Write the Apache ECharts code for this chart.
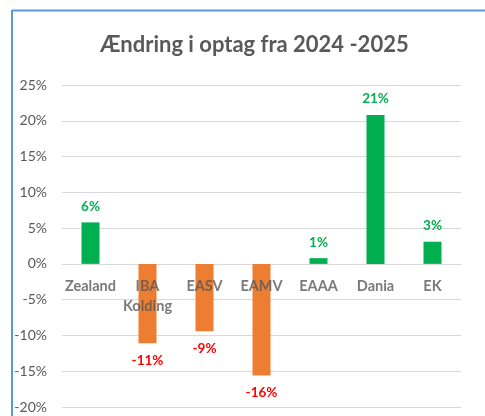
<!DOCTYPE html>
<html><head><meta charset="utf-8">
<script src="https://cdn.jsdelivr.net/npm/echarts@6/dist/echarts.min.js"></script>
<style>html,body{margin:0;padding:0;background:#fff}#c{width:485px;height:416px}</style>
</head><body><div id="c"></div>
<script>
const title = 'Ændring i optag fra 2024 -2025';
const categories = ['Zealand', 'IBA\nKolding', 'EASV', 'EAMV', 'EAAA', 'Dania', 'EK'];
const values = [5.8, -11.1, -9.4, -15.6, 0.8, 20.8, 3.1];
const labels = ['6%', '-11%', '-9%', '-16%', '1%', '21%', '3%'];
const yMin = -20, yMax = 25, yStep = 5;

const GREEN = '#00B050', ORANGE = '#ED7D31', RED = '#FF0000', GRAY = '#595959';
const FONT = 'Lato, "Liberation Sans", sans-serif';

const chart = echarts.init(document.getElementById('c'), null, {renderer: 'canvas'});
chart.setOption({
  animation: false,
  backgroundColor: '#fff',
  title: {
    text: title, left: 95, top: 29,
    textStyle: {fontFamily: FONT, fontSize: 22, fontWeight: 'bold', color: GRAY}
  },
  graphic: [
    {type: 'line', shape: {x1: 12, y1: 10.5, x2: 485, y2: 10.5}, style: {stroke: '#5B9BD5', lineWidth: 2}},
    {type: 'line', shape: {x1: 12, y1: 10, x2: 12, y2: 416}, style: {stroke: '#5B9BD5', lineWidth: 2}}
  ],
  grid: {left: 62, right: 24, top: 85, bottom: 9, containLabel: false, outerBoundsMode: 'none'},
  xAxis: {
    type: 'category', data: categories,
    axisLine: {onZero: true, lineStyle: {color: '#D9D9D9'}},
    axisTick: {show: false},
    axisLabel: {show: false}
  },
  yAxis: {
    type: 'value', min: yMin, max: yMax, interval: yStep,
    axisLine: {show: false}, axisTick: {show: false},
    splitLine: {lineStyle: {color: '#D9D9D9', width: 1}},
    axisLabel: {fontFamily: FONT, fontSize: 14, color: GRAY, margin: 15, formatter: v => v + '%'}
  },
  series: [{
    type: 'bar', barWidth: 18,
    data: values.map((v, i) => ({
      value: v,
      itemStyle: {color: v >= 0 ? GREEN : ORANGE},
      label: {
        show: true, position: v >= 0 ? 'top' : 'bottom', distance: v >= 0 ? 9 : 10,
        formatter: labels[i], fontFamily: FONT, fontSize: 13.5, fontWeight: 'bold',
        color: v >= 0 ? GREEN : RED
      }
    }))
  }, {
    type: 'scatter', symbolSize: 0, silent: true, z: 5,
    data: categories.map(c => [c, 0]),
    label: {
      show: true, position: 'bottom', distance: 12,
      formatter: p => categories[p.dataIndex],
      fontFamily: FONT, fontSize: 14.5, fontWeight: 'bold', color: GRAY, lineHeight: 20, align: 'center'
    }
  }]
});
</script></body></html>
